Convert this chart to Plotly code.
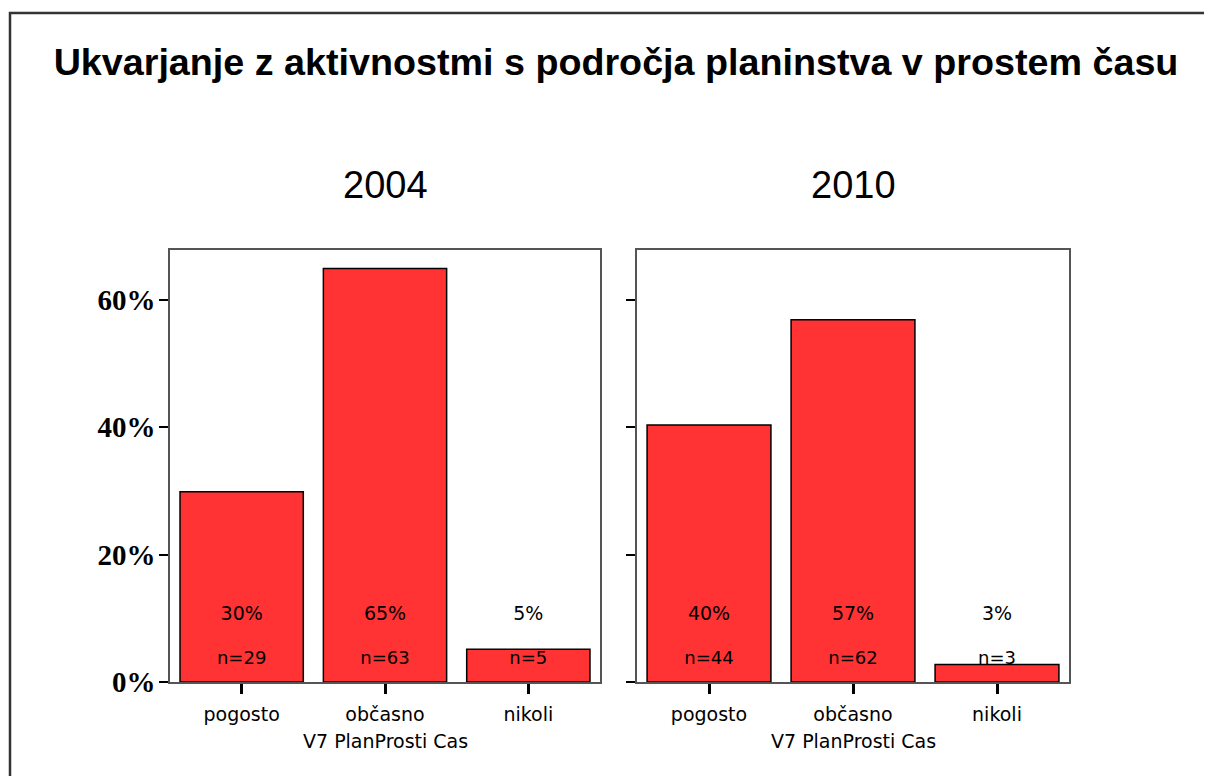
import plotly.graph_objects as go

categories = ["pogosto", "občasno", "nikoli"]
years = ["2004", "2010"]
counts_2004 = [29, 63, 5]
counts_2010 = [44, 62, 3]
pct_labels_2004 = ["30%", "65%", "5%"]
pct_labels_2010 = ["40%", "57%", "3%"]
y_ticks = [0, 20, 40, 60]
y_ticklabels = ["0%", "20%", "40%", "60%"]

TITLE = "Ukvarjanje z aktivnostmi s področja planinstva v prostem času"
X_TITLE = "V7 PlanProsti Cas"

W, H = 1212, 776
OFF = 8  # page body margin
BAR_RED = "#FF3333"
PIX_FONT = "DejaVu Sans, sans-serif"


def px_x(p):
    return (p - OFF) / W


def px_y(p):
    return 1 - (p - OFF) / H


panels = [
    dict(counts=counts_2004, labels=pct_labels_2004, year=years[0], dom=(170, 600), ax=""),
    dict(counts=counts_2010, labels=pct_labels_2010, year=years[1], dom=(637, 1069), ax="2"),
]

fig = go.Figure()

for p in panels:
    total = sum(p["counts"])
    pct = [c / total * 100 for c in p["counts"]]
    xa, ya = "x" + p["ax"], "y" + p["ax"]
    fig.add_trace(go.Bar(
        x=categories, y=pct,
        marker=dict(color=BAR_RED, line=dict(color="black", width=1.5)),
        xaxis=xa, yaxis=ya,
        showlegend=False,
        hoverinfo="skip",
    ))
    # percentage labels and n= labels sit at fixed heights near the bottom
    fig.add_trace(go.Scatter(
        x=categories, y=[10.5] * 3,
        mode="text", text=p["labels"],
        textfont=dict(family=PIX_FONT, size=19, color="black"),
        xaxis=xa, yaxis=ya, showlegend=False, hoverinfo="skip",
    ))
    fig.add_trace(go.Scatter(
        x=categories, y=[3.6] * 3,
        mode="text", text=[f"n={c}" for c in p["counts"]],
        textfont=dict(family=PIX_FONT, size=18, color="black"),
        xaxis=xa, yaxis=ya, showlegend=False, hoverinfo="skip",
    ))
    cx = px_x(sum(p["dom"]) / 2)
    fig.add_annotation(
        x=cx, y=px_y(185), xref="paper", yref="paper",
        xanchor="center", yanchor="middle",
        text=p["year"], showarrow=False,
        font=dict(family="Liberation Sans, Arial", size=38, color="black"),
    )
    fig.add_annotation(
        x=cx, y=px_y(741), xref="paper", yref="paper",
        xanchor="center", yanchor="middle",
        text=X_TITLE, showarrow=False,
        font=dict(family=PIX_FONT, size=19, color="black"),
    )

axis_common = dict(
    showline=True, linecolor="#555555", linewidth=1.5, mirror=True,
    showgrid=False, zeroline=False, automargin=False,
)
xaxis_common = dict(
    axis_common,
    ticks="outside", ticklen=10, tickwidth=3, tickcolor="black",
    ticklabelstandoff=4,
    tickfont=dict(family=PIX_FONT, size=19, color="black"),
)
yaxis_common = dict(
    axis_common,
    range=[0, 67.85],
    tickvals=y_ticks,
    ticks="outside", ticklen=9, tickwidth=2, tickcolor="black",
)

fig.update_layout(
    width=W, height=H,
    margin=dict(l=0, r=0, t=0, b=0, autoexpand=False),
    paper_bgcolor="white", plot_bgcolor="white",
    bargap=0.14,
    xaxis=dict(xaxis_common, domain=[px_x(170), px_x(600)], anchor="y"),
    xaxis2=dict(xaxis_common, domain=[px_x(637), px_x(1069)], anchor="y2"),
    yaxis=dict(
        yaxis_common, domain=[px_y(682), px_y(250)], anchor="x",
        ticktext=[f"<b>{t}</b>" for t in y_ticklabels],
        ticklabelstandoff=-2,
        tickfont=dict(family="Liberation Serif, Times New Roman", size=29, color="black"),
    ),
    yaxis2=dict(
        yaxis_common, domain=[px_y(682), px_y(250)], anchor="x2",
        ticktext=[""] * len(y_ticks),
    ),
    title=dict(
        text=f"<b>{TITLE}</b>",
        x=px_x(616), xanchor="center", y=px_y(62), yanchor="middle",
        font=dict(family="Liberation Sans, Arial", size=37.7, color="black"),
    ),
    shapes=[dict(
        type="rect", xref="paper", yref="paper",
        x0=px_x(10), x1=1.02, y0=-0.02, y1=px_y(13),
        line=dict(color="#333333", width=2.5), fillcolor="rgba(0,0,0,0)",
    )],
)

fig.write_html("out.html")
